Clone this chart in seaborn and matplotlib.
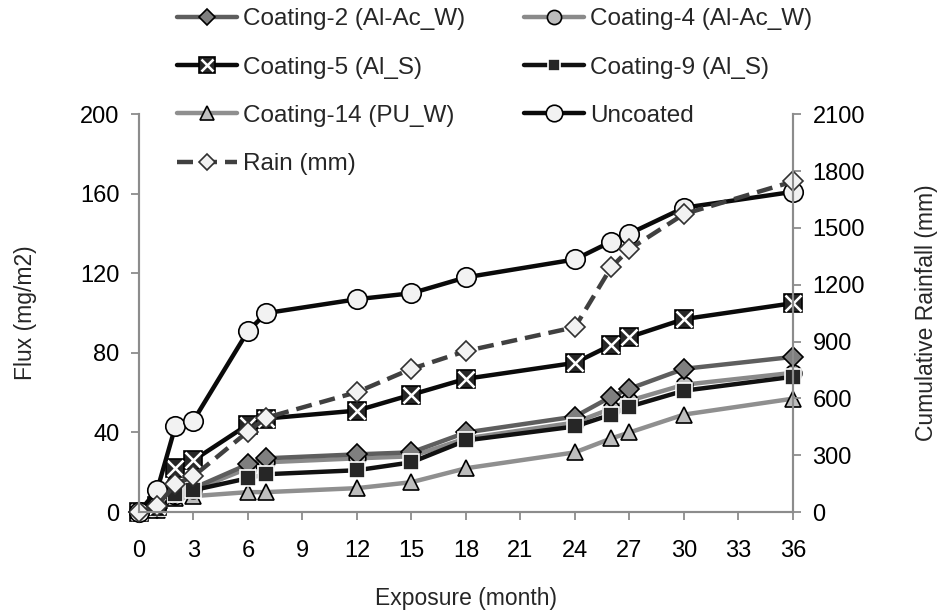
import matplotlib
matplotlib.use("Agg")
import matplotlib.pyplot as plt
import seaborn as sns

# data
months = [0, 1, 2, 3, 6, 7, 12, 15, 18, 24, 26, 27, 30, 36]
coating2 = [0, 2, 9, 12, 24, 27, 29, 30, 40, 48, 58, 62, 72, 78]
coating4 = [0, 2, 8, 11, 22, 25, 27, 28, 37, 45, 52, 56, 64, 70]
coating5 = [0, 3, 22, 26, 44, 47, 51, 59, 67, 75, 84, 88, 97, 105]
coating9 = [0, 2, 9, 11, 17, 19, 21, 25, 36, 43, 49, 53, 61, 68]
coating14 = [0, 1, 7, 8, 10, 10, 12, 15, 22, 30, 37, 40, 49, 57]
uncoated = [0, 11, 43, 46, 91, 100, 107, 110, 118, 127, 136, 140, 153, 161]
rain = [0, 32, 147, 189, 425, 498, 633, 756, 850, 976, 1293, 1388, 1573, 1745]

sns.set_theme(style="white")
plt.rcParams["font.family"] = ["Liberation Sans", "DejaVu Sans"]
plt.rcParams["font.size"] = 16

fig = plt.figure(figsize=(9.41, 6.11), dpi=100)
ax = fig.add_axes([0.1477, 0.162, 0.695, 0.651])
ax2 = ax.twinx()

lw = 3.2
common = dict(ax=ax, linewidth=lw, markeredgecolor="black", markeredgewidth=1.2, clip_on=False)

# series on the flux axis (drawn bottom to top)
sns.lineplot(x=months, y=coating14, color="#8f8f8f", marker="^", markersize=12,
             markerfacecolor="#bdbdbd", **common)
h14 = ax.get_lines()[-1]
sns.lineplot(x=months, y=coating4, color="#8a8a8a", marker="o", markersize=12,
             markerfacecolor="#bdbdbd", **common)
h4 = ax.get_lines()[-1]
sns.lineplot(x=months, y=coating2, color="#5e5e5e", marker="D", markersize=10,
             markerfacecolor="#7f7f7f", **common)
h2 = ax.get_lines()[-1]
sns.lineplot(x=months, y=coating9, color="#111111", marker="s", markersize=11,
             markerfacecolor="#262626", markeredgecolor="white", **{k: v for k, v in common.items() if k != "markeredgecolor"})
h9 = ax.get_lines()[-1]
sns.lineplot(x=months, y=coating5, color="#0a0a0a", marker="s", markersize=13,
             markerfacecolor="#262626", **common)
h5 = ax.get_lines()[-1]
sns.lineplot(x=months, y=coating5, color="white", marker="x", markersize=11,
             linestyle="", markeredgewidth=1.8, ax=ax, clip_on=False)
h5x = ax.get_lines()[-1]
sns.lineplot(x=months, y=uncoated, color="#0a0a0a", marker="o", markersize=14,
             markerfacecolor="#f2f2f2", **common)
hu = ax.get_lines()[-1]

# cumulative rainfall on the right axis
sns.lineplot(x=months, y=rain, ax=ax2, color="#404040", linewidth=lw, linestyle=(0, (3.6, 1.8)),
             marker="D", markersize=10, markerfacecolor="#f2f2f2", markeredgecolor="#303030",
             markeredgewidth=1.2, clip_on=False)
hr = ax2.get_lines()[-1]

ax.set_xlim(0, 36)
ax.set_ylim(0, 200)
ax2.set_ylim(0, 2100)
ax.set_xticks(range(0, 37, 3))
ax.set_yticks(range(0, 201, 40))
ax2.set_yticks(range(0, 2101, 300))

for a in (ax, ax2):
    a.spines["top"].set_visible(False)
    for side in ("left", "right", "bottom"):
        a.spines[side].set_color("#8c8c8c")
        a.spines[side].set_linewidth(1.5)
    a.tick_params(colors="black", labelsize=17, length=6, width=1.3, color="#8c8c8c", direction="out")
ax.tick_params(axis="x", bottom=True, pad=14)
ax.tick_params(axis="y", left=True, pad=8)
ax2.tick_params(axis="y", right=True, pad=8)

ax.set_xlabel("Exposure (month)", fontsize=16.5, labelpad=18)
ax.set_ylabel("Flux (mg/m2)", fontsize=16.5, labelpad=31)
ax2.set_ylabel("Cumulative Rainfall (mm)", fontsize=16.5, labelpad=36)
ax2.yaxis.label.set_rotation(90)

handles = [h2, (h5, h5x), h14, hr, h4, h9, hu]
labels = ["Coating-2 (Al-Ac_W)", "Coating-5 (Al_S)", "Coating-14 (PU_W)", "Rain (mm)",
          "Coating-4 (Al-Ac_W)", "Coating-9 (Al_S)", "Uncoated"]
fig.legend(handles, labels, ncol=2, loc="upper left", bbox_to_anchor=(0.165, 1.022),
           frameon=False, fontsize=17.5, handlelength=2.47, handletextpad=0.25,
           columnspacing=2.4, labelspacing=1.08, markerscale=0.85)

fig.savefig("out.png", dpi=100)
